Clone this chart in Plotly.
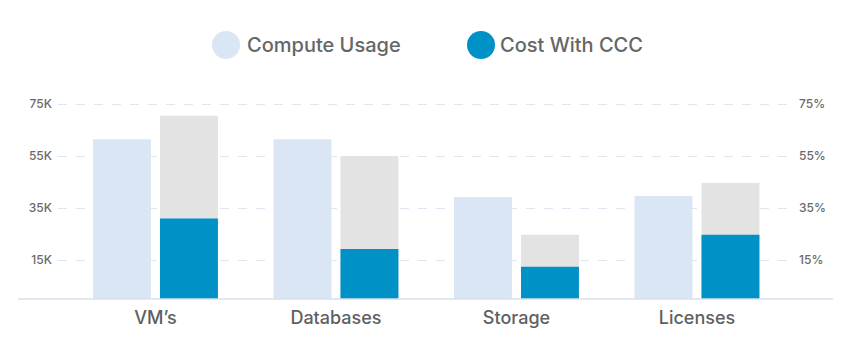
import plotly.graph_objects as go

categories = ["VM’s", "Databases", "Storage", "Licenses"]
compute_usage = [61500, 61500, 39200, 39600]
cost_with_ccc = [31000, 19200, 12400, 24700]
total_cost = [70500, 55000, 24700, 44600]
left_ticks = [15000, 35000, 55000, 75000]
left_labels = ["15K", "35K", "55K", "75K"]
right_ticks = [15, 35, 55, 75]
right_labels = ["15%", "35%", "55%", "75%"]

LIGHT = "#dbe6f4"
DARK = "#0091c6"
GRAY = "#e3e3e3"
FONT = "Inter, Roboto, sans-serif"

# page body has an 8px margin; compensate so the figure lands on the reference pixels
OFF = 8
W, H = 852, 360
ML, MR, MT, MB = 58 - OFF, 59 + OFF, 90 - OFF, 61 + OFF
PW, PH = W - ML - MR, H - MT - MB

def px(x):
    return (x - OFF - ML) / PW

def py(y):
    return (H - MB - (y - OFF)) / PH

bw = 0.321
fig = go.Figure()
fig.add_bar(x=categories, y=compute_usage, name="Compute Usage", marker_color=LIGHT,
            width=bw, offset=-0.346, showlegend=False, marker_line_width=0)
fig.add_bar(x=categories, y=total_cost, name="Total", marker_color=GRAY,
            width=bw, offset=0.025, showlegend=False, marker_line_width=0)
fig.add_bar(x=categories, y=cost_with_ccc, name="Cost With CCC", marker_color=DARK,
            width=bw, offset=0.025, showlegend=False, marker_line_width=0)
# right axis helper trace (invisible)
fig.add_scatter(x=categories, y=[None] * 4, yaxis="y2", showlegend=False, hoverinfo="skip")

ymax = 80400
tick_font = dict(size=12, color="#6a6a6a", family=FONT, weight=500)
fig.update_layout(
    width=W, height=H,
    margin=dict(l=ML, r=MR, t=MT, b=MB),
    barmode="overlay",
    plot_bgcolor="white", paper_bgcolor="white",
    font=dict(family=FONT, color="#666666"),
    showlegend=False,
    xaxis=dict(range=[-0.540, 3.532], showgrid=False, zeroline=False, showline=False,
               ticks="", tickfont=dict(size=18, color="#606060", family=FONT, weight=500),
               ticklabelstandoff=6),
    yaxis=dict(range=[0, ymax], tickvals=left_ticks, ticktext=left_labels,
               showgrid=True, gridcolor="#dde6f1", griddash="dash", gridwidth=1,
               zeroline=False, showline=False, ticks="", ticklabelstandoff=5,
               tickfont=tick_font),
    yaxis2=dict(range=[0, ymax / 1000], overlaying="y", side="right",
                tickvals=right_ticks, ticktext=right_labels, showgrid=False,
                zeroline=False, showline=False, ticks="", ticklabelstandoff=5,
                tickfont=tick_font),
)

# baseline
fig.add_shape(type="line", xref="paper", yref="paper", x0=px(18), x1=px(833), y0=0, y1=0,
              line=dict(color="#d6e1ee", width=1.5), layer="above")

# manual legend
legend_items = [("Compute Usage", LIGHT, 226, 245), ("Cost With CCC", DARK, 481, 498)]
for label, color, cx, tx in legend_items:
    r = 14
    fig.add_shape(type="circle", xref="paper", yref="paper",
                  x0=px(cx - r), x1=px(cx + r), y0=py(45 + r), y1=py(45 - r),
                  fillcolor=color, line=dict(width=0))
    fig.add_annotation(text=label, xref="paper", yref="paper", x=px(tx), y=py(45),
                       xanchor="left", yanchor="middle", showarrow=False,
                       font=dict(size=20, color="#666666", family=FONT, weight=500))

fig.write_html("out.html")
